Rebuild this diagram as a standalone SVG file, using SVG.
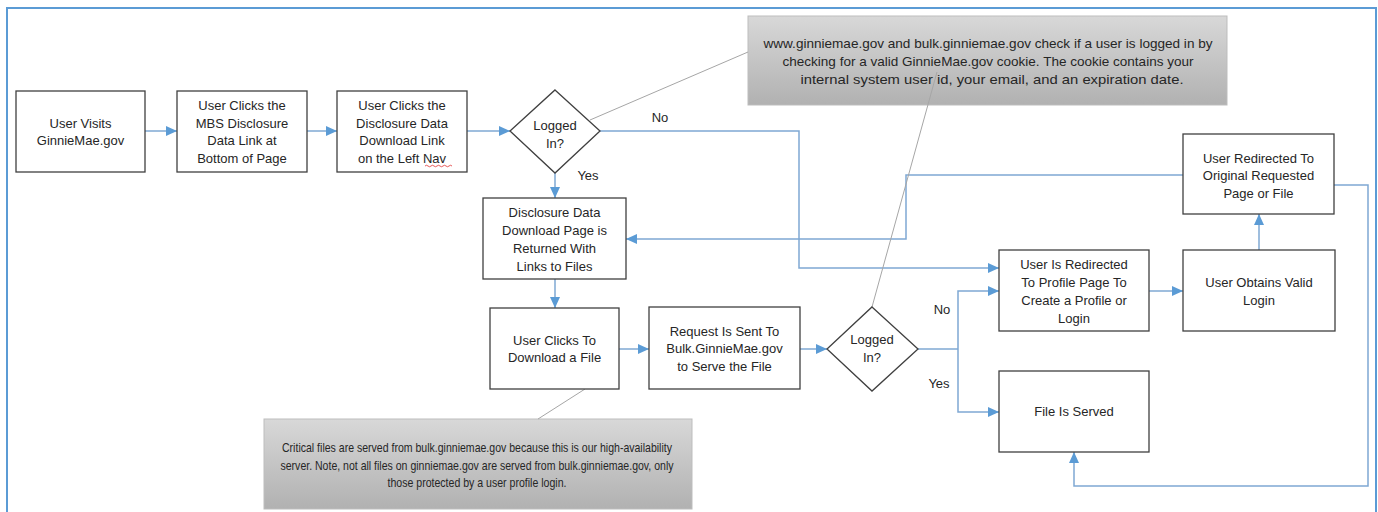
<svg xmlns="http://www.w3.org/2000/svg" width="1378" height="512" viewBox="0 0 1378 512">
<defs>
<linearGradient id="gray" x1="0" y1="0" x2="0" y2="1">
<stop offset="0" stop-color="#d8d8d8"/>
<stop offset="1" stop-color="#b1b1b1"/>
</linearGradient>
<marker id="arr" markerUnits="userSpaceOnUse" markerWidth="11" markerHeight="10" refX="11" refY="5" orient="auto">
<path d="M0,0 L11,5 L0,10 z" fill="#5b9bd5"/>
</marker>
</defs>
<style>
.box{fill:#fff;stroke:#404040;stroke-width:1.3}
.note{fill:url(#gray);stroke:#bdbdbd;stroke-width:1}
.t{font-family:"Liberation Sans",Arial,sans-serif;font-size:13px;fill:#262626;text-anchor:middle}
.c{fill:none;stroke:#7fa8d3;stroke-width:1.5}
.a{marker-end:url(#arr)}
.cl{fill:none;stroke:#a6a6a6;stroke-width:1}
</style>
<rect x="0" y="0" width="1378" height="512" fill="#fff"/>
<rect x="7" y="8" width="1369" height="512" fill="none" stroke="#5b9bd5" stroke-width="2"/>

<g id="connectors">
<path class="c a" d="M145,131 H177"/>
<path class="c a" d="M307,131 H337"/>
<path class="c a" d="M467,131 H510"/>
<path class="c a" d="M555,173 V198"/>
<path class="c a" d="M600,131 H799 V268 H999"/>
<path class="c a" d="M555,279 V308"/>
<path class="c a" d="M619,349 H649"/>
<path class="c a" d="M800,349 H827"/>
<path class="c" d="M918,349 H958"/>
<path class="c a" d="M958,349 V291 H999"/>
<path class="c a" d="M958,349 V412 H999"/>
<path class="c a" d="M1149,291 H1183"/>
<path class="c a" d="M1259,250 V214"/>
<path class="c a" d="M1183,175 H906 V239 H626"/>
<path class="c a" d="M1334,185 H1368 V486 H1074 V452"/>
<text class="t" x="660" y="121.5">No</text>
<text class="t" x="588" y="179.5">Yes</text>
<text class="t" x="942" y="313.5">No</text>
<text class="t" x="939" y="387.5">Yes</text>
</g>

<g id="note1">
<rect class="note" x="748" y="16" width="479" height="89"/>
<text class="t" x="988" y="48" textLength="449" lengthAdjust="spacingAndGlyphs">www.ginniemae.gov and bulk.ginniemae.gov check if a user is logged in by</text>
<text class="t" x="988" y="66" textLength="411" lengthAdjust="spacingAndGlyphs">checking for a valid GinnieMae.gov cookie. The cookie contains your</text>
<text class="t" x="992" y="84" textLength="383" lengthAdjust="spacingAndGlyphs">internal system user id, your email, and an expiration date.</text>
</g>
<g id="note2">
<rect class="note" x="264" y="419" width="428" height="90"/>
<text class="t" x="477" y="452" textLength="390" lengthAdjust="spacingAndGlyphs">Critical files are served from bulk.ginniemae.gov because this is our high-availability</text>
<text class="t" x="477" y="470" textLength="393" lengthAdjust="spacingAndGlyphs">server. Note, not all files on ginniemae.gov are served from bulk.ginniemae.gov, only</text>
<text class="t" x="477" y="487" textLength="179" lengthAdjust="spacingAndGlyphs">those protected by a user profile login.</text>
</g>
<g id="note-lines">
<path class="cl" d="M590,120 L748,52"/>
<path class="cl" d="M872,307 L937,72"/>
<path class="cl" d="M585,389 L538,419"/>
</g>

<g id="n1">
<rect class="box" x="16" y="91" width="129" height="81"/>
<text class="t" x="80.5" y="127.5">User Visits</text>
<text class="t" x="80.5" y="144.5">GinnieMae.gov</text>
</g>
<g id="n2">
<rect class="box" x="177" y="91" width="130" height="81"/>
<text class="t" x="242" y="109.5">User Clicks the</text>
<text class="t" x="242" y="127.5">MBS Disclosure</text>
<text class="t" x="242" y="144.5">Data Link at</text>
<text class="t" x="242" y="162.5">Bottom of Page</text>
</g>
<g id="n3">
<rect class="box" x="337" y="91" width="130" height="81"/>
<text class="t" x="402" y="109.5">User Clicks the</text>
<text class="t" x="402" y="127.5">Disclosure Data</text>
<text class="t" x="402" y="144.5">Download Link</text>
<text class="t" x="402" y="162.5">on the Left Nav</text>
<path d="M425,166 q1.5,-1.5 3,0 t3,0 t3,0 t3,0 t3,0 t3,0 t3,0 t3,0 t3,0" fill="none" stroke="#e03030" stroke-width="0.8"/>
</g>
<g id="d1">
<polygon class="box" points="555,90 600,131 555,173 510,131"/>
<text class="t" x="555" y="129.5">Logged</text>
<text class="t" x="555" y="147.5">In?</text>
</g>
<g id="n4">
<rect class="box" x="483" y="198" width="143" height="81"/>
<text class="t" x="554.5" y="216.5">Disclosure Data</text>
<text class="t" x="554.5" y="234.5">Download Page is</text>
<text class="t" x="554.5" y="252.5">Returned With</text>
<text class="t" x="554.5" y="270.5">Links to Files</text>
</g>
<g id="n5">
<rect class="box" x="490" y="308" width="129" height="81"/>
<text class="t" x="554.5" y="344.5">User Clicks To</text>
<text class="t" x="554.5" y="361.5">Download a File</text>
</g>
<g id="n6">
<rect class="box" x="649" y="307" width="151" height="82"/>
<text class="t" x="724.5" y="335.5">Request Is Sent To</text>
<text class="t" x="724.5" y="352.5">Bulk.GinnieMae.gov</text>
<text class="t" x="724.5" y="370.5">to Serve the File</text>
</g>
<g id="d2">
<polygon class="box" points="872,307 918,349 872,391 827,349"/>
<text class="t" x="872" y="343.5">Logged</text>
<text class="t" x="872" y="361.5">In?</text>
</g>
<g id="n7">
<rect class="box" x="999" y="250" width="150" height="81"/>
<text class="t" x="1074" y="268.5">User Is Redirected</text>
<text class="t" x="1074" y="286.5">To Profile Page To</text>
<text class="t" x="1074" y="304.5">Create a Profile or</text>
<text class="t" x="1074" y="323">Login</text>
</g>
<g id="n8">
<rect class="box" x="1183" y="250" width="152" height="81"/>
<text class="t" x="1259" y="286.5">User Obtains Valid</text>
<text class="t" x="1259" y="304.5">Login</text>
</g>
<g id="n9">
<rect class="box" x="999" y="371" width="150" height="81"/>
<text class="t" x="1074" y="415.5">File Is Served</text>
</g>
<g id="n10">
<rect class="box" x="1183" y="134" width="151" height="80"/>
<text class="t" x="1258.5" y="162.5">User Redirected To</text>
<text class="t" x="1258.5" y="179.5">Original Requested</text>
<text class="t" x="1258.5" y="197.5">Page or File</text>
</g>
</svg>
